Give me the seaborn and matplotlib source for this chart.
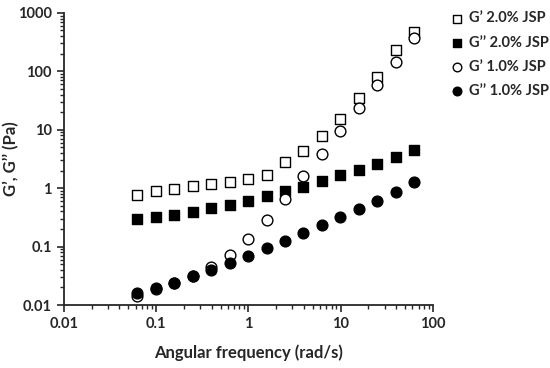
import pandas as pd
import numpy as np
import matplotlib.pyplot as plt
import seaborn as sns
from matplotlib.ticker import LogLocator, FixedLocator, NullFormatter

# ----------------------------------------------------------
# Data read off the frequency sweep
# ----------------------------------------------------------
freq = [0.0628, 0.0996, 0.158, 0.250, 0.396, 0.628, 0.996, 1.58,
        2.50, 3.96, 6.28, 9.96, 15.8, 25.0, 39.6, 62.8]
g1_20 = [0.75, 0.88, 0.98, 1.08, 1.17, 1.27, 1.42, 1.7,
         2.8, 4.3, 7.7, 15.5, 35, 80, 230, 480]
g2_20 = [0.30, 0.32, 0.35, 0.39, 0.45, 0.52, 0.61, 0.73,
         0.88, 1.05, 1.32, 1.65, 2.05, 2.6, 3.4, 4.5]
g1_10 = [0.0145, 0.019, 0.024, 0.031, 0.045, 0.072, 0.135, 0.29,
         0.65, 1.6, 3.9, 9.5, 24, 58, 145, 370]
g2_10 = [0.016, 0.0195, 0.024, 0.031, 0.040, 0.052, 0.070, 0.093,
         0.127, 0.172, 0.23, 0.32, 0.44, 0.61, 0.86, 1.3]

labels = ["G\u2019 2.0% JSP", "G\u2019\u2019 2.0% JSP", "G\u2019 1.0% JSP", "G\u2019\u2019 1.0% JSP"]
x_ticks = [0.01, 0.1, 1, 10, 100]
x_tick_labels = ["0.01", "0.1", "1", "10", "100"]
y_ticks = [0.01, 0.1, 1, 10, 100, 1000]
y_tick_labels = ["0.01", "0.1", "1", "10", "100", "1000"]

# ----------------------------------------------------------
# Plot
# ----------------------------------------------------------
sns.set_style("ticks")
plt.rcParams['font.family'] = ['Lato', 'DejaVu Sans']
plt.rcParams['font.weight'] = 'bold'

fig = plt.figure(figsize=(5.5, 3.68), dpi=100)
ax = fig.add_axes([0.116, 0.171, 0.671, 0.794])

series = [(g1_20, 's', 'white'), (g2_20, 's', 'black'),
          (g1_10, 'o', 'white'), (g2_10, 'o', 'black')]
for (vals, mk, fc), lab in zip(series, labels):
    sns.scatterplot(x=freq, y=vals, marker=mk, s=60, facecolor=fc,
                    edgecolor='black', linewidth=1.0, label=lab, ax=ax, zorder=3)

ax.set_xscale('log')
ax.set_yscale('log')
ax.set_xlim(0.01, 100)
ax.set_ylim(0.01, 1000)
ax.xaxis.set_major_locator(FixedLocator(x_ticks))
ax.set_xticklabels(x_tick_labels)
ax.yaxis.set_major_locator(FixedLocator(y_ticks))
ax.set_yticklabels(y_tick_labels)
ax.xaxis.set_minor_locator(LogLocator(base=10, subs=np.arange(2, 10)))
ax.yaxis.set_minor_locator(LogLocator(base=10, subs=np.arange(2, 10)))
ax.xaxis.set_minor_formatter(NullFormatter())
ax.yaxis.set_minor_formatter(NullFormatter())
ax.tick_params(which='major', length=5, width=1.2, labelsize=10.5)
ax.tick_params(which='minor', length=3, width=1.0)
for sp in ['left', 'bottom']:
    ax.spines[sp].set_linewidth(1.3)
sns.despine(ax=ax)

ax.set_xlabel('Angular frequency (rad/s)', fontsize=12, fontweight='bold', labelpad=10)
ax.set_ylabel('G\u2019, G\u2019\u2019 (Pa)', fontsize=12, fontweight='bold')
ax.yaxis.set_label_coords(-0.12, 0.5)

leg = ax.legend(loc='upper left', bbox_to_anchor=(1.05, 1.005), frameon=False,
                fontsize=10.5, handlelength=0.8, handletextpad=0.4,
                labelspacing=0.7, markerscale=0.8, borderaxespad=0,
                borderpad=0)

plt.savefig('out.png', dpi=100)
